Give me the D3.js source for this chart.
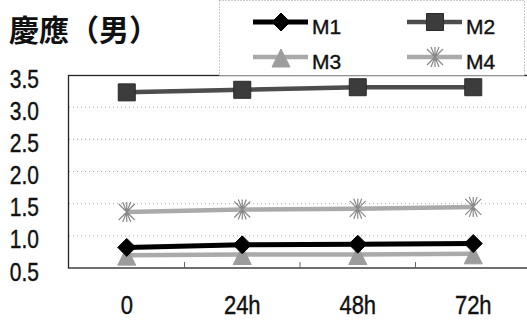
<!DOCTYPE html>
<html><head><meta charset="utf-8">
<script src="https://d3js.org/d3.v7.min.js"></script>
<style>
html,body{margin:0;padding:0;background:#fff;}
svg{display:block;}
</style></head>
<body>
<script>
const categories = ["0", "24h", "48h", "72h"];
const seriesNames = ["M1", "M2", "M3", "M4"];
const m1 = [0.82, 0.86, 0.87, 0.88];
const m2 = [3.23, 3.27, 3.31, 3.31];
const m3 = [0.70, 0.71, 0.71, 0.72];
const m4 = [1.37, 1.41, 1.42, 1.45];
const yTicks = [0.5, 1.0, 1.5, 2.0, 2.5, 3.0, 3.5];
const title = "慶應（男）";

const W = 527, H = 322;
const svg = d3.select("body").append("svg").attr("width", W).attr("height", H);

const x = d3.scaleBand().domain(categories).range([69, 531]);
const y = d3.scaleLinear().domain([0.5, 3.5]).range([268, 75]);
const cx = d => x(d) + x.bandwidth() / 2;

// gridlines
svg.append("g").selectAll("line").data(yTicks.slice(1, -1)).join("line")
  .attr("x1", 69).attr("x2", 531)
  .attr("y1", d => y(d)).attr("y2", d => y(d))
  .attr("stroke", "#aaa").attr("stroke-width", 1).attr("stroke-dasharray", "1,3");

// frame
svg.append("rect").attr("x", 68.5).attr("y", 75.5).attr("width", 470).attr("height", 192.5)
  .attr("fill", "none").attr("stroke", "#222").attr("stroke-width", 1.3);

// category tick marks
svg.append("g").selectAll("line").data(categories.slice(1)).join("line")
  .attr("x1", d => x(d)).attr("x2", d => x(d))
  .attr("y1", 268).attr("y2", 262)
  .attr("stroke", "#666").attr("stroke-width", 1);

// axes
const fontAx = "'Liberation Sans', Arial, sans-serif";
function squeeze(sel, sx) {
  sel.each(function () {
    const t = d3.select(this);
    const tx = +t.attr("x") || 0;
    t.attr("x", 0).attr("transform", `translate(${tx},0) scale(${sx},1)`);
  });
}
const yAxis = svg.append("g").attr("transform", "translate(68,0)")
  .call(d3.axisLeft(y).tickValues(yTicks).tickFormat(d3.format(".1f")).tickSize(0).tickPadding(29));
yAxis.select(".domain").remove();
yAxis.selectAll("text").attr("font-size", 25).attr("font-family", fontAx)
  .attr("fill", "#111").attr("stroke", "#111").attr("stroke-width", 0.4).attr("dy", "0.48em");
squeeze(yAxis.selectAll("text"), 0.84);

const xAxis = svg.append("g").attr("transform", "translate(0,268)")
  .call(d3.axisBottom(x).tickSize(0).tickPadding(28));
xAxis.select(".domain").remove();
xAxis.selectAll("text").attr("font-size", 25).attr("font-family", fontAx)
  .attr("fill", "#111").attr("stroke", "#111").attr("stroke-width", 0.4);
squeeze(xAxis.selectAll("text"), 0.88);

// markers
function markerPath(type) {
  if (type === "diamond") return "M0,-9L9,0L0,9L-9,0Z";
  if (type === "square") return "M-8.5,-8.5H8.5V8.5H-8.5Z";
  if (type === "triangle") return "M0,-8L9,10H-9Z";
  if (type === "star") return "M-8,-8L8,8M-8,8L8,-8M0,-10V10M-4,-10L4,10M4,-10L-4,10";
  return "";
}
const series = [
  {name: seriesNames[0], values: m1, color: "#000", fill: "#000", marker: "diamond", w: 5},
  {name: seriesNames[1], values: m2, color: "#4d4d4d", fill: "#3c3c3c", marker: "square", w: 4.5},
  {name: seriesNames[2], values: m3, color: "#aaa", fill: "#9c9c9c", marker: "triangle", w: 4.5},
  {name: seriesNames[3], values: m4, color: "#aaa", fill: "none", marker: "star", w: 4.5}
];
const line = d3.line().x((d, i) => cx(categories[i])).y(d => y(d));

function drawMarker(g, s, px, py) {
  const p = g.append("path").attr("d", markerPath(s.marker))
    .attr("transform", `translate(${px},${py})`);
  if (s.marker === "star") p.attr("fill", "none").attr("stroke", "#888").attr("stroke-width", 1.2);
  else p.attr("fill", s.fill).attr("stroke", s.marker === "square" ? "#2a2a2a" : s.fill).attr("stroke-width", 1);
}

const drawOrder = [series[2], series[3], series[0], series[1]];
drawOrder.forEach(s => {
  const g = svg.append("g");
  g.append("path").datum(s.values).attr("d", line)
    .attr("fill", "none").attr("stroke", s.color).attr("stroke-width", s.w);
  s.values.forEach((v, i) => drawMarker(g, s, cx(categories[i]), y(v)));
});

// legend
const lg = svg.append("g");
lg.append("rect").attr("x", 219.5).attr("y", 0.5).attr("width", 305).attr("height", 75)
  .attr("fill", "#fff").attr("stroke", "#999").attr("stroke-width", 1).attr("stroke-dasharray", "1,2");
const legPos = [[253, 22], [407, 22], [253, 57], [407, 57]];
series.forEach((s, i) => {
  const [lx, ly] = legPos[i];
  lg.append("line").attr("x1", lx).attr("x2", lx + 55).attr("y1", ly).attr("y2", ly)
    .attr("stroke", s.color).attr("stroke-width", s.w);
  drawMarker(lg, s, lx + 28, ly);
  lg.append("text").attr("x", lx + 59).attr("y", ly + 12).text(s.name)
    .attr("font-size", 21).attr("font-family", fontAx)
    .attr("fill", "#111").attr("stroke", "#111").attr("stroke-width", 0.4);
});

// title
svg.append("text").attr("x", 9).attr("y", 41).text(title)
  .attr("font-size", 30).attr("font-weight", "bold")
  .attr("font-family", "'Noto Sans CJK JP', sans-serif").attr("fill", "#111");
</script>
</body></html>
